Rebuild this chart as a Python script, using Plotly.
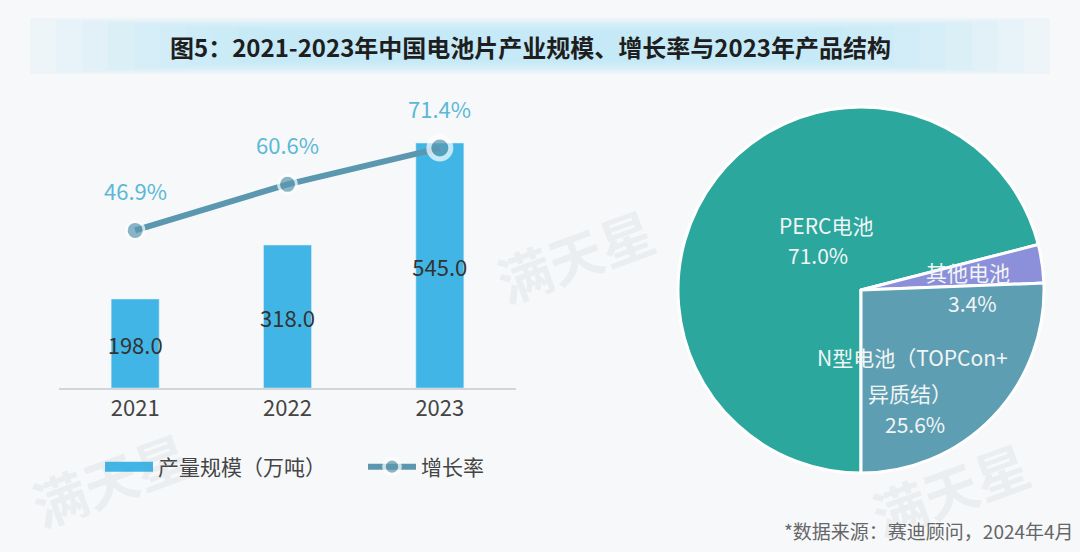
import plotly.graph_objects as go

years = ["2021", "2022", "2023"]
output = [198.0, 318.0, 545.0]          # 产量规模（万吨）
growth = [46.9, 60.6, 71.4]             # 增长率 %
pie_labels = ["PERC电池", "其他电池", "N型电池（TOPCon+异质结）"]
pie_values = [71.0, 3.4, 25.6]

title_text = "图5：2021-2023年中国电池片产业规模、增长率与2023年产品结构"
source_text = "*数据来源：赛迪顾问，2024年4月"

FONT = "Noto Sans CJK SC"
W, H = 1080, 552
BAR_C = "#41B6E6"
LINE_C = "#5B98AF"

fig = go.Figure()

fig.add_trace(go.Bar(
    x=years, y=output, name="产量规模（万吨）", showlegend=False,
    marker=dict(color=BAR_C),
    text=[f"{v:.1f}" for v in output], textposition="inside", textangle=0,
    insidetextanchor="middle", constraintext="none",
    textfont=dict(size=22, color="#333333", family=FONT),
    width=0.315, xaxis="x", yaxis="y",
))
# legend proxy for the bar series (wide rectangle symbol)
fig.add_trace(go.Scatter(
    x=[years[0]], y=[None], name="产量规模（万吨）", mode="lines",
    line=dict(color=BAR_C, width=19), xaxis="x", yaxis="y",
))

fig.add_trace(go.Scatter(
    x=years, y=growth, name="增长率", mode="lines+markers",
    line=dict(color=LINE_C, width=6),
    marker=dict(size=[18, 18, 22], color=LINE_C,
                line=dict(color="white", width=[3, 3, 5])),
    xaxis="x", yaxis="y2", cliponaxis=False,
))

fig.add_trace(go.Pie(
    labels=pie_labels, values=pie_values, sort=False,
    direction="clockwise", rotation=180,
    marker=dict(colors=["#2BA79D", "#8C8FDA", "#5E9EB2"],
                line=dict(color="white", width=3)),
    textinfo="none", showlegend=False, hoverinfo="label+percent",
    domain=dict(x=[678 / W, 1044 / W], y=[1 - 473 / H, 1 - 107 / H]),
))

annotations = []
# growth value labels above points (category index positions)
for i, g in enumerate(growth):
    annotations.append(dict(text=f"{g}%", x=i, y=g, xref="x", yref="y2", yshift=40,
                            showarrow=False, yanchor="middle", xanchor="center",
                            font=dict(size=22, color="#5BB9D6", family=FONT)))

# pie slice labels
pie_ann = [
    ("PERC电池", 826, 225), ("71.0%", 818, 255),
    ("其他电池", 968, 272), ("3.4%", 972, 303),
    ("N型电池（TOPCon+", 912, 357), ("异质结）", 910, 393), ("25.6%", 915, 424),
]
for t, x, y in pie_ann:
    annotations.append(dict(text=t, x=x / W, y=1 - y / H, xref="paper", yref="paper",
                            xanchor="center", yanchor="middle", showarrow=False,
                            font=dict(size=21, color="#F2F5F5", family=FONT)))

annotations.append(dict(text="<b>" + title_text + "</b>", x=530 / W, y=1 - 46 / H,
                        xref="paper", yref="paper", xanchor="center", yanchor="middle",
                        showarrow=False, font=dict(size=24, color="#1E1E1E", family=FONT)))
annotations.append(dict(text=source_text, x=1076 / W, y=1 - 530 / H, xref="paper", yref="paper",
                        xanchor="right", yanchor="middle", showarrow=False,
                        font=dict(size=19, color="#666666", family=FONT)))

# faint watermarks
for x, y, s in [(575, 255, 54), (110, 478, 54), (950, 488, 54)]:
    annotations.append(dict(text="<b>满天星</b>", x=x / W, y=1 - y / H, xref="paper", yref="paper",
                            xanchor="center", yanchor="middle",
                            showarrow=False, textangle=-20,
                            font=dict(size=s, color="rgba(120,130,140,0.08)", family=FONT)))

# title band simulated gradient (fades to the edges)
shapes = []
steps = 10
for i in range(steps):
    f = i / steps
    x0 = 30 + f * 260
    x1 = 1050 - f * 260
    y0 = 74 - f * 14
    y1 = 18 + f * 14
    shapes.append(dict(type="rect", xref="paper", yref="paper",
                       x0=x0 / W, x1=x1 / W, y0=1 - y0 / H, y1=1 - y1 / H,
                       fillcolor="rgba(185,228,246,0.12)", line=dict(width=0), layer="below"))

fig.update_layout(
    width=W, height=H,
    margin=dict(l=0, r=0, t=0, b=0),
    paper_bgcolor="#F6F8FA", plot_bgcolor="rgba(0,0,0,0)",
    font=dict(family=FONT, color="#444444"),
    xaxis=dict(type="category", domain=[59 / W, 516 / W], range=[-0.5, 2.5],
               showgrid=False, showline=True, zeroline=False,
               linecolor="#D3D6D9", linewidth=1.5, ticks="",
               tickfont=dict(size=22, color="#444444"), fixedrange=True),
    yaxis=dict(domain=[1 - 388 / H, 1 - 100 / H], range=[0, 640.7], visible=False),
    yaxis2=dict(domain=[1 - 388 / H, 1 - 100 / H], range=[0, 85.7], overlaying="y",
                visible=False),
    legend=dict(orientation="h", x=100 / W, y=1 - 467 / H, xanchor="left", yanchor="middle",
                font=dict(size=21, color="#444444"), bgcolor="rgba(0,0,0,0)",
                itemwidth=48, entrywidth=200, entrywidthmode="pixels"),
    bargap=0.685,
    annotations=annotations, shapes=shapes,
)

fig.write_html("out.html")
